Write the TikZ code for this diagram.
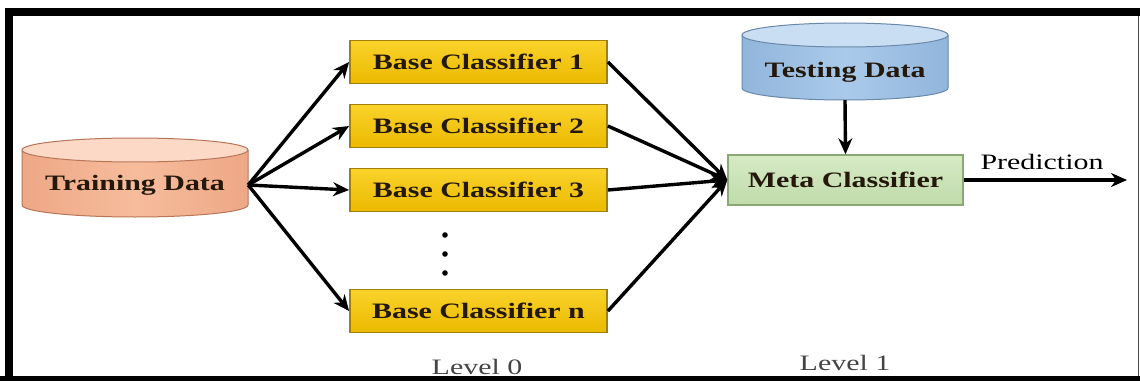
\documentclass[tikz,border=0pt]{standalone}
\usepackage{fontspec}
\setmainfont{Liberation Serif}
\newfontfamily\labfont[FakeStretch=1.36]{Liberation Serif}
\usetikzlibrary{arrows.meta}

\definecolor{trainBody}{HTML}{F7BC9C}
\definecolor{trainSide}{HTML}{EDA886}
\definecolor{trainTop}{HTML}{FBD9C6}
\definecolor{trainEdge}{HTML}{B87658}
\definecolor{testBody}{HTML}{A9CAEA}
\definecolor{testSide}{HTML}{92B5DB}
\definecolor{testTop}{HTML}{C9DEF2}
\definecolor{testEdge}{HTML}{6A88AA}
\definecolor{goldTop}{HTML}{F9D22A}
\definecolor{goldMid}{HTML}{F5C800}
\definecolor{goldBot}{HTML}{EBBA00}
\definecolor{goldEdge}{HTML}{A3800A}
\definecolor{metaTop}{HTML}{D6EAC6}
\definecolor{metaBot}{HTML}{C0DBAA}
\definecolor{metaEdge}{HTML}{88A874}
\definecolor{inkDark}{HTML}{24180C}
\definecolor{levelGray}{HTML}{444444}

\begin{document}
\begin{tikzpicture}[x=1pt,y=1pt,
  lbl/.style={font=\labfont\fontsize{22}{24}\selectfont\bfseries, inner sep=0pt, text=inkDark},
  plain/.style={font=\labfont\fontsize{22}{24}\selectfont, inner sep=0pt},
  drumlabel/.style={lbl, rectangle, draw=none},
  basebox/.style={lbl, rectangle, minimum width=257, minimum height=43,
    draw=goldEdge, line width=1.8, top color=goldTop, middle color=goldMid, bottom color=goldBot},
  metabox/.style={lbl, rectangle, minimum width=235, minimum height=50,
    draw=metaEdge, line width=1.4, top color=metaTop, bottom color=metaBot},
  arr/.style={line width=3.4, -{Stealth[length=16,width=14]}},
]
\useasboundingbox (0,0) rectangle (1140,381);
\fill[white] (0,0) rectangle (1140,381);

% outer frame
\fill[black] (5,0) rectangle (13,373);
\fill[black] (5,365) rectangle (1140,373);
\fill[black] (0,0) rectangle (1140,5);
\draw[black!70, line width=1.5] (1138.5,5) -- (1138.5,365);

% training data drum
\path[left color=trainSide, right color=trainSide, middle color=trainBody]
  (22,231) -- (22,176) arc[start angle=180,end angle=360,x radius=113,y radius=12]
  -- (248,231) arc[start angle=0,end angle=180,x radius=113,y radius=12] -- cycle;
\draw[trainEdge, line width=1]
  (22,231) -- (22,176) arc[start angle=180,end angle=360,x radius=113,y radius=12]
  -- (248,231);
\filldraw[fill=trainTop, draw=trainEdge, line width=1] (135,231) ellipse[x radius=113, y radius=12];
\node[drumlabel, minimum width=226, minimum height=40] (train) at (135,196) {Training Data};

% testing data drum
\path[left color=testSide, right color=testSide, middle color=testBody]
  (742,346) -- (742,293) arc[start angle=180,end angle=360,x radius=103,y radius=12]
  -- (948,346) arc[start angle=0,end angle=180,x radius=103,y radius=12] -- cycle;
\draw[testEdge, line width=1]
  (742,346) -- (742,293) arc[start angle=180,end angle=360,x radius=103,y radius=12]
  -- (948,346);
\filldraw[fill=testTop, draw=testEdge, line width=1] (845,346) ellipse[x radius=103, y radius=12];
\node[drumlabel, minimum width=206, minimum height=56] (test) at (845,309) {Testing Data};

% level 0 classifiers
\node[basebox] (b1) at (478.5,319) {Base Classifier 1};
\node[basebox] (b2) at (478.5,255) {Base Classifier 2};
\node[basebox] (b3) at (478.5,191) {Base Classifier 3};
\node[basebox] (bn) at (478.5,70) {Base Classifier n};
\foreach \yy in {146,127,108} \fill[black] (445,\yy) circle (2.8);

% level 1 classifier
\node[metabox] (meta) at (845.5,201) {Meta Classifier};

% connectors
\foreach \b in {b1,b2,b3,bn} \draw[arr] (train.east) -- (\b.west);
\foreach \b in {b1,b2,b3,bn} \draw[arr] (\b.east) -- (meta.west);
\draw[arr] (test.south) -- (meta.north);
\coordinate (out) at (1127,201);
\draw[arr] (meta.east) -- (out);
\node[plain] (pred) at (1042,219) {Prediction};

% level captions
\node[plain, text=levelGray] (lev0) at (477,14) {Level 0};
\node[plain, text=levelGray] (lev1) at (845,18) {Level 1};
\end{tikzpicture}
\end{document}
